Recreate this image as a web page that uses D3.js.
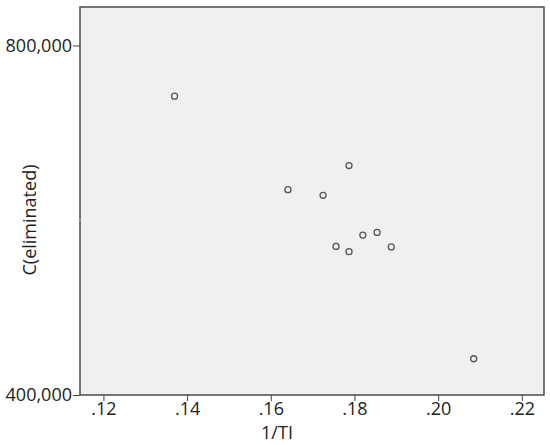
<!DOCTYPE html>
<html>
<head>
<meta charset="utf-8">
<script src="https://cdn.jsdelivr.net/npm/d3@7"></script>
<style>
  body { margin: 0; background: #fff; }
  text { font-family: "Open Sans", sans-serif; fill: #222; }
</style>
</head>
<body>
<script>
// points
const invTI = [0.1370, 0.1787, 0.1641, 0.1725, 0.1820, 0.1854, 0.1756, 0.1787, 0.1888, 0.2085];
const cEliminated = [742000, 662500, 635000, 628500, 583000, 586000, 570000, 564000, 569500, 441500];
const xTicks = [0.12, 0.14, 0.16, 0.18, 0.20, 0.22];
const yTicks = [400000, 800000];

const width = 550, height = 445;
const plot = { left: 80, right: 544, top: 7, bottom: 395 };

const svg = d3.select("body").append("svg")
  .attr("width", width)
  .attr("height", height);

const x = d3.scaleLinear().domain([0.1144, 0.2253]).range([plot.left, plot.right]);
const y = d3.scaleLinear().domain([400000, 844000]).range([plot.bottom, plot.top]);

svg.append("rect")
  .attr("x", plot.left)
  .attr("y", plot.top)
  .attr("width", plot.right - plot.left)
  .attr("height", plot.bottom - plot.top)
  .style("fill", "#f0f0f0")
  .style("stroke", "#4a4a4a")
  .style("stroke-width", 1.5);

const fmtX = (d) => d3.format(".2f")(d).replace(/^0/, "");

const xAxis = svg.append("g")
  .attr("transform", `translate(0,${plot.bottom})`)
  .call(d3.axisBottom(x).tickValues(xTicks).tickSize(6).tickPadding(1).tickFormat(fmtX));
xAxis.select(".domain").remove();
xAxis.selectAll("line").style("stroke", "#444");
xAxis.selectAll("text").style("font-size", "18px").style("font-family", "Open Sans").style("fill", "#222");

const yAxis = svg.append("g")
  .attr("transform", `translate(${plot.left},0)`)
  .call(d3.axisLeft(y).tickValues(yTicks).tickSize(7).tickPadding(1).tickFormat(d3.format(",")));
yAxis.select(".domain").remove();
yAxis.selectAll("line").style("stroke", "#444");
yAxis.selectAll("text").style("font-size", "18px").style("font-family", "Open Sans").style("fill", "#222");

// faint middle tick
svg.append("line")
  .attr("x1", plot.left - 2).attr("x2", plot.left + 2)
  .attr("y1", y(600000)).attr("y2", y(600000))
  .style("stroke", "#ccc");

svg.selectAll("circle.pt")
  .data(invTI.map((v, i) => [v, cEliminated[i]]))
  .enter()
  .append("circle")
  .attr("class", "pt")
  .attr("cx", (d) => x(d[0]))
  .attr("cy", (d) => y(d[1]))
  .attr("r", 3)
  .style("fill", "none")
  .style("stroke", "#555")
  .style("stroke-width", 1.3);

svg.append("text")
  .attr("x", 277)
  .attr("y", 439)
  .attr("text-anchor", "middle")
  .style("font-size", "18px")
  .text("1/TI");

svg.append("text")
  .attr("transform", `translate(36,220) rotate(-90)`)
  .attr("text-anchor", "middle")
  .style("font-size", "18px")
  .text("C(eliminated)");
</script>
</body>
</html>
